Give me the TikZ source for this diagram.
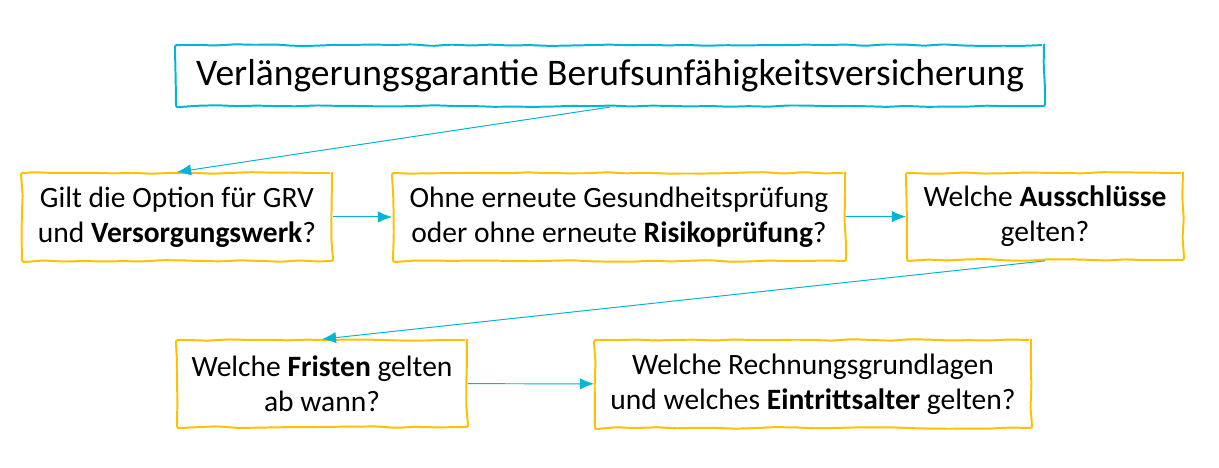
\documentclass[tikz,border=0pt]{standalone}
\usepackage{fontspec}
\setmainfont{Carlito}
\usetikzlibrary{arrows.meta,decorations.pathmorphing,positioning}
\definecolor{frageGelb}{RGB}{255,192,0}
\definecolor{pfeilCyan}{RGB}{0,182,212}
\begin{document}
\begin{tikzpicture}[thick,
  kasten/.style={draw=frageGelb, line width=1.4pt, align=center, inner sep=0pt,
    decorate, decoration={random steps, segment length=14pt, amplitude=0.6pt},
    rounded corners=1.5pt, font=\fontsize{21}{25}\selectfont},
  pfeil/.style={draw=pfeilCyan, line width=0.7pt, -{Latex[length=10pt,width=8pt]}}]
  \useasboundingbox (0,0) rectangle (30.475,11.7);

  \node[kasten, draw=pfeilCyan, minimum width=21.7cm, minimum height=1.525cm,
        font=\fontsize{26.7}{32}\selectfont] (titel) at (15.25,9.81) {Verlängerungsgarantie Berufsunfähigkeitsversicherung};

  \node[kasten, minimum width=7.75cm, minimum height=2.2cm] (option) at (4.425,6.275)
    {Gilt die Option für GRV\\und \textbf{Versorgungswerk}?};
  \node[kasten, minimum width=11.3cm, minimum height=2.2cm] (pruefung) at (15.475,6.275)
    {Ohne erneute Gesundheitsprüfung\\oder ohne erneute \textbf{Risikoprüfung}?};
  \node[kasten, minimum width=6.9cm, minimum height=2.175cm] (ausschluss) at (26.125,6.29)
    {Welche \textbf{Ausschlüsse}\\gelten?};
  \node[kasten, minimum width=7.25cm, minimum height=2.175cm] (fristen) at (8.05,2.11)
    {Welche \textbf{Fristen} gelten\\ab wann?};
  \node[kasten, minimum width=10.9cm, minimum height=2.2cm] (grundlagen) at (20.325,2.1)
    {Welche Rechnungsgrundlagen\\und welches \textbf{Eintrittsalter} gelten?};

  \draw[pfeil] (titel.south) -- (option.north);
  \draw[pfeil] (option) -- (pruefung);
  \draw[pfeil] (pruefung) -- (ausschluss);
  \draw[pfeil] (ausschluss.south) -- (fristen.north);
  \draw[pfeil] (fristen) -- (grundlagen);
\end{tikzpicture}
\end{document}
